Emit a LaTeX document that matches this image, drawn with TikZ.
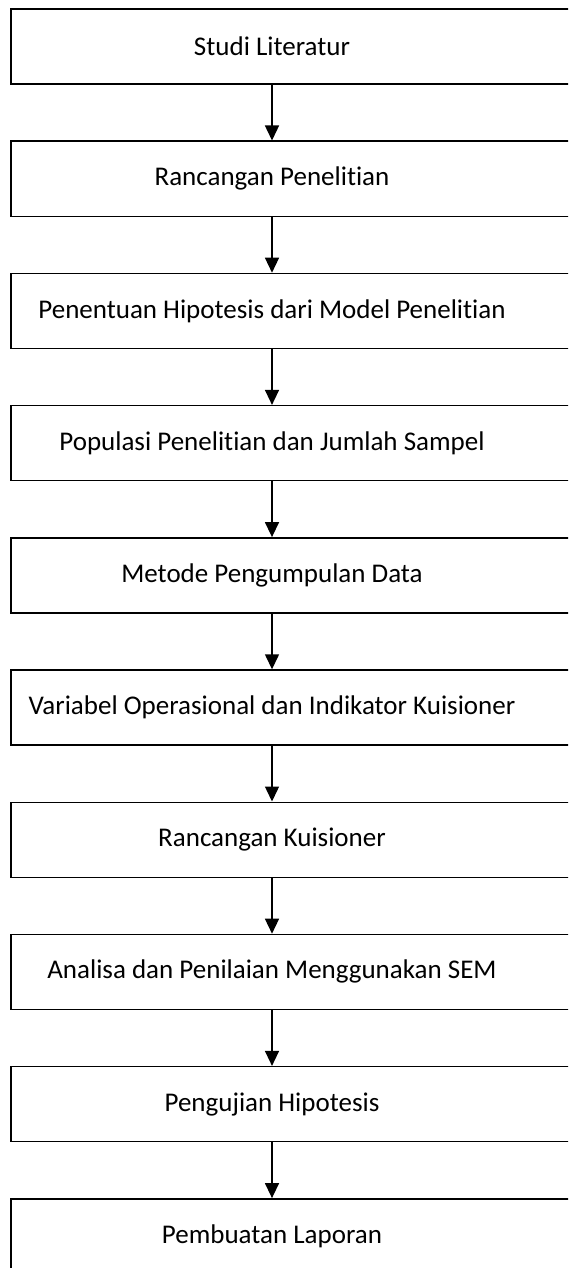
\documentclass[tikz,border=0pt]{standalone}
\usepackage{fontspec}
\setmainfont{Carlito}[RawFeature={-liga,-clig,-dlig,-calt}]
\usetikzlibrary{arrows.meta}
% break the t-i ligature of Carlito
\newcommand{\tsplit}{t\kern0pt i}
\begin{document}
\begin{tikzpicture}[x=1pt,y=-1pt,
  stepbox/.style={draw,line width=1.4pt,minimum width=564pt,minimum height=75pt,inner sep=0pt},
  steptext/.style={font=\fontsize{27}{30}\selectfont,inner sep=0pt},
  flow/.style={line width=1.4pt,-{Triangle[width=14pt,length=15pt]}}]
\useasboundingbox (0,0) rectangle (568,1268);
\clip (0,0) rectangle (568,1268);
\foreach \i/\t in {1/Studi Literatur,
                   2/Rancangan Peneli\tsplit an,
                   3/Penentuan Hipotesis dari Model Peneli\tsplit an,
                   4/Populasi Peneli\tsplit an dan Jumlah Sampel,
                   5/Metode Pengumpulan Data,
                   6/Variabel Operasional dan Indikator Kuisioner,
                   7/Rancangan Kuisioner,
                   8/Analisa dan Penilaian Menggunakan SEM,
                   9/Pengujian Hipotesis,
                   10/Pembuatan Laporan}{
  \pgfmathsetmacro{\cy}{9+132.2*(\i-1)+37.5}
  \node[stepbox] (b\i) at (293,\cy) {};
  \node[steptext] (t\i) at (272,\cy) {\t};
}
\foreach \i [evaluate=\i as \j using int(\i+1)] in {1,...,9}{
  \draw[flow] (t\i |- b\i.south) -- (t\j |- b\j.north);
}
\end{tikzpicture}
\end{document}
